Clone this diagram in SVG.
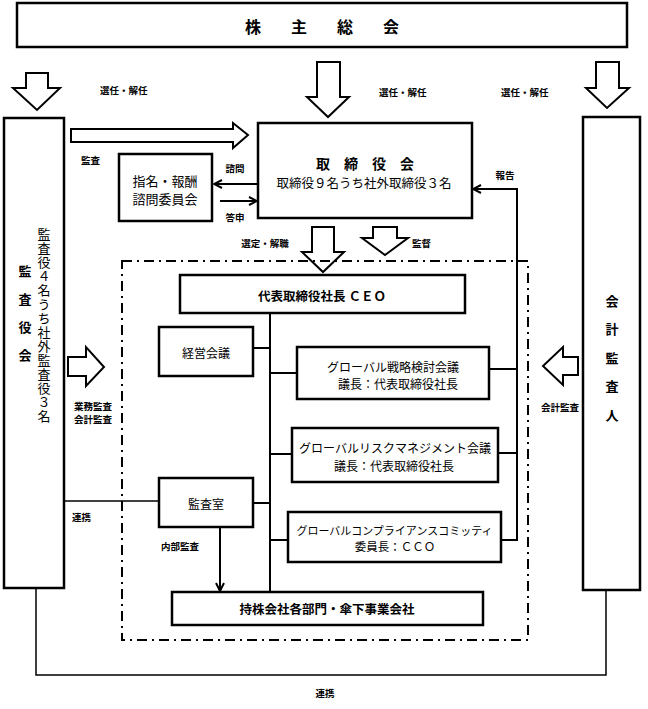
<svg xmlns="http://www.w3.org/2000/svg" width="648" height="709" viewBox="0 0 648 709">
<style>
text{font-family:"Noto Sans CJK JP","Noto Sans",sans-serif;fill:#000;dominant-baseline:central;text-anchor:middle}
.box{fill:#fff;stroke:#000;stroke-width:2.5}
.blk{fill:#fff;stroke:#000;stroke-width:2;stroke-linejoin:miter}
.ln{fill:none;stroke:#000;stroke-width:2}
.thin{fill:none;stroke:#000;stroke-width:1.5}
.dd{fill:none;stroke:#000;stroke-width:2;stroke-dasharray:10 5 2 5}
.t{font-size:12px}
.tb{font-size:13px;font-weight:bold}
.s{font-size:9.5px;font-weight:bold}
.sl{font-size:9.5px;font-weight:bold;text-anchor:start}
.vt{writing-mode:vertical-rl;text-anchor:start;font-size:13px;letter-spacing:1px}
</style>
<defs>
<marker id="ah" viewBox="0 0 10 10" refX="9" refY="5" markerWidth="10" markerHeight="10" markerUnits="userSpaceOnUse" orient="auto">
<path d="M1,1 L9,5 L1,9" fill="none" stroke="#000" stroke-width="2"/>
</marker>
</defs>

<g id="shareholders">
<rect class="box" x="17" y="3" width="610" height="44"/>
<text x="322" y="26" style="font-size:16px;font-weight:bold;letter-spacing:30px" dx="15">株主総会</text>
</g>

<g id="block-arrows">
<polygon class="blk" points="26,73 48,73 48,88 60,88 37,110 13,88 26,88"/>
<polygon class="blk" points="317,62 340,62 340,97 349,97 328,117 307,97 317,97"/>
<polygon class="blk" points="596,62 619,62 619,88 629,88 607,108 586,88 596,88"/>
<polygon class="blk" points="71,129 233,129 233,123 248,135 233,148 233,142 71,142"/>
<polygon class="blk" points="312,227 334,227 334,252 344,252 323,272 302,252 312,252"/>
<polygon class="blk" points="373,227 397,227 397,238 408,238 385,255 362,238 373,238"/>
<polygon class="blk" points="68,357 86,357 86,347 104,367 86,386 86,376 68,376"/>
<polygon class="blk" points="578,357 563,357 563,347 543,366 563,385 563,375 578,375"/>
</g>

<g id="scope">
<rect class="dd" x="122" y="261" width="406" height="379"/>
</g>

<g id="connectors">
<path class="ln" d="M270,313 V592"/>
<path class="ln" d="M253,348 H270"/>
<path class="ln" d="M270,373 H297"/>
<path class="ln" d="M270,454 H292"/>
<path class="ln" d="M253,503 H270"/>
<path class="ln" d="M270,540 H288"/>
<path class="ln" d="M489,369 H517"/>
<path class="ln" d="M498,453 H517"/>
<path class="ln" d="M501,540 H517 V189 H473" marker-end="url(#ah)"/>
<path class="ln" d="M220,527 V591" marker-end="url(#ah)"/>
<path class="ln" d="M258,184 H214" marker-end="url(#ah)"/>
<path class="ln" d="M220,201 H257" marker-end="url(#ah)"/>
<path class="thin" d="M64,501 H159"/>
<path class="thin" d="M36,588 V675 H606 V590"/>
</g>

<g id="auditors">
<rect class="box" x="4" y="118" width="60" height="470"/>
<text class="tb"><tspan x="25" y="270">監</tspan><tspan x="25" y="298">査</tspan><tspan x="25" y="326">役</tspan><tspan x="25" y="354">会</tspan></text>
<text class="vt" x="44" y="228">監査役４名うち社外監査役３名</text>
</g>

<g id="accounting-auditor">
<rect class="box" x="583" y="117" width="57" height="473"/>
<text class="tb"><tspan x="612" y="300">会</tspan><tspan x="612" y="328">計</tspan><tspan x="612" y="357">監</tspan><tspan x="612" y="385">査</tspan><tspan x="612" y="414">人</tspan></text>
</g>

<g id="board">
<rect class="box" x="258" y="123" width="214" height="95"/>
<text x="365" y="163" style="font-size:14px;font-weight:bold;letter-spacing:14px" dx="7">取締役会</text>
<text x="364" y="182" style="font-size:12.5px">取締役９名うち社外取締役３名</text>
</g>

<g id="committee">
<rect class="box" x="119" y="154" width="93" height="67"/>
<text x="165" y="180" style="font-size:13px">指名・報酬</text>
<text x="165" y="198" style="font-size:13px">諮問委員会</text>
</g>

<g id="ceo">
<rect class="box" x="180" y="275" width="285" height="38"/>
<text x="322" y="295" style="font-size:12.5px;font-weight:bold">代表取締役社長 ＣＥＯ</text>
</g>

<g id="management-meeting">
<rect class="box" x="159" y="327" width="94" height="49"/>
<text class="t" x="206" y="352">経営会議</text>
</g>

<g id="strategy">
<rect class="box" x="297" y="347" width="192" height="52"/>
<text class="t" x="393" y="366">グローバル戦略検討会議</text>
<text class="t" x="398" y="383">議長：代表取締役社長</text>
</g>

<g id="risk">
<rect class="box" x="292" y="428" width="206" height="54"/>
<text class="t" x="395" y="447">グローバルリスクマネジメント会議</text>
<text class="t" x="394" y="465">議長：代表取締役社長</text>
</g>

<g id="audit-office">
<rect class="box" x="159" y="478" width="94" height="49"/>
<text class="t" x="206" y="503">監査室</text>
</g>

<g id="compliance">
<rect class="box" x="288" y="512" width="213" height="50"/>
<text x="394.5" y="530" style="font-size:11px">グローバルコンプライアンスコミッティ</text>
<text x="395" y="546" style="font-size:11.5px">委員長：ＣＣＯ</text>
</g>

<g id="divisions">
<rect class="box" x="172" y="592" width="311" height="33"/>
<text x="327" y="608" style="font-size:12.5px;font-weight:bold">持株会社各部門・傘下事業会社</text>
</g>

<g id="labels">
<text class="sl" x="100" y="90">選任・解任</text>
<text class="sl" x="379" y="92">選任・解任</text>
<text class="sl" x="501" y="92">選任・解任</text>
<text class="sl" x="81" y="160">監査</text>
<text class="s" x="235" y="168">諮問</text>
<text class="s" x="235" y="217">答申</text>
<text class="s" x="265" y="243">選定・解職</text>
<text class="sl" x="412" y="243">監督</text>
<text class="s" x="505" y="175">報告</text>
<text class="s"><tspan x="93" y="406">業務監査</tspan><tspan x="93" y="419">会計監査</tspan></text>
<text class="s" x="560" y="407">会計監査</text>
<text class="sl" x="72" y="517">連携</text>
<text class="s" x="180" y="546">内部監査</text>
<text class="s" x="325" y="693">連携</text>
</g>
</svg>
